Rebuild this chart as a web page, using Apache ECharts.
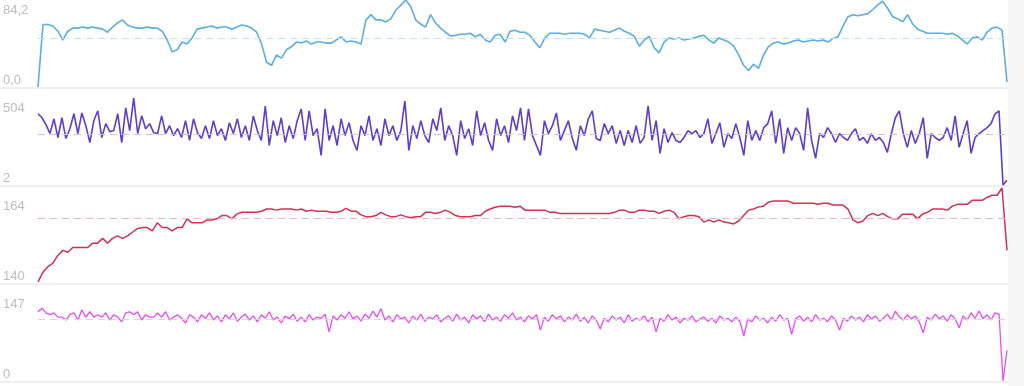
<!DOCTYPE html>
<html>
<head>
<meta charset="utf-8">
<script src="https://cdn.jsdelivr.net/npm/echarts@6/dist/echarts.min.js"></script>
<style>
  html, body { margin: 0; padding: 0; background: #ffffff; }
  #chart { width: 1024px; height: 386px; }
</style>
</head>
<body>
<div id="chart"></div>
<script>
// ---- data ----
const blueValues = [0, 60.5, 60.5, 59, 54, 45.5, 54, 57, 57, 58, 57, 58, 57, 56, 53, 58, 62, 65, 60, 58, 57, 57, 58, 57, 57, 54, 45.5, 34, 36, 43.5, 41.5, 47.5, 56, 57, 58, 59, 57, 58, 58, 56, 58, 60, 59, 57, 53, 41.5, 24, 21, 31, 28, 36, 39, 43.5, 42.5, 44.5, 41.5, 43.5, 43.5, 42.5, 42.5, 45.5, 48.5, 43.5, 44.5, 43.5, 41.5, 65, 70, 65, 65, 63, 66, 74.5, 79, 84.2, 78, 65, 61, 58, 70, 62, 57, 53, 49.5, 50, 51, 51, 52, 48.5, 51, 45.5, 43.5, 50, 51, 43.5, 54, 55, 53, 53, 50, 43.5, 38, 47.5, 52, 52, 52, 51, 52, 52, 52, 51, 47.5, 56, 55, 54, 53, 55, 57, 54, 52, 49, 39.5, 45.5, 49, 38, 33, 43.5, 47.5, 46.5, 47.5, 45.5, 46.5, 47.5, 49, 50, 45.5, 42.5, 47.5, 45.5, 43.5, 39.5, 31, 21, 16, 22, 18, 31, 39, 42.5, 43.5, 41.5, 42.5, 44.5, 45.5, 43.5, 44.5, 45.5, 44.5, 45.5, 43.5, 47, 48.5, 59, 68, 70, 69, 70, 71, 75, 79.5, 83, 76, 68, 66, 63, 70, 61, 56, 54, 52, 52, 52, 52, 51, 52, 49.5, 45.5, 41.5, 47.5, 48.5, 45.5, 53, 57, 58, 55, 5];

const purpleValues = [413, 390, 350, 299, 384, 276, 390, 270, 327, 413, 299, 418, 344, 247, 373, 430, 276, 356, 310, 316, 413, 247, 447, 316, 504, 299, 401, 327, 356, 304, 299, 401, 299, 344, 287, 327, 276, 373, 259, 384, 304, 270,
  344, 270, 373, 287, 327, 259, 361, 299, 384, 276, 344, 259, 401, 316, 259, 458, 230, 373, 287, 390, 247, 344, 270, 373, 441, 259, 430, 287, 327, 173, 441, 259, 344, 230, 384, 287, 361, 259, 202, 344, 287, 401, 259, 327, 230, 384, 287, 344, 259, 316, 487, 202, 344, 270, 373, 287, 247, 384, 316, 447, 259, 344, 287, 173, 373, 270, 327, 230, 430, 287, 361, 259, 202, 384, 287, 344, 247, 401, 316, 447, 259, 441, 287, 230, 173, 373, 299, 344, 418, 259, 316, 373, 270, 202, 344, 287, 384, 430, 270, 259,
  356, 299, 344, 242, 316, 230, 316, 247, 344, 242, 276, 458, 259, 373, 185, 327, 247, 304, 259, 247, 276, 316, 299, 316, 276, 299, 384, 242, 299, 361, 219, 299, 270, 356, 276, 173, 373, 259, 316, 259, 333, 356, 430, 242, 384, 185, 333, 259, 333, 299, 202, 447, 259, 156, 299, 276, 333, 299, 247, 299, 276, 259, 299, 327, 259, 276, 242, 299, 259, 276, 247, 190, 299, 390, 430, 299, 219, 316, 242, 299, 390, 156, 299, 276, 259, 276, 333, 259, 401, 219, 299, 373, 185, 276, 299, 316, 333, 356, 413, 430, 2, 30];

const redValues = [140.3, 143, 144.5, 145.5, 147.6, 149, 148.5, 149.8, 149.8, 149.8, 149.8, 151, 151, 152.3, 151, 152.3, 153, 152.3, 153, 154, 155, 155.3, 155.3, 154.4, 156.6, 155.3, 155.3, 154.4, 155.3, 155.3, 157.7, 156.6, 156.6, 156.6, 157.4, 157.4, 157.7, 158.6, 158.6, 157.7, 159, 159.5, 159.5, 159.5, 159.5, 159.8, 160.4, 160.4, 160.1, 160.4, 160.4, 160.4, 160.1, 160.4, 159.8, 160.1, 159.8, 159.8, 159.8, 159.5, 159.5, 159.8, 160.6, 159.8, 159.8, 158.8, 158.3, 158.3, 158.6, 159.5, 158.8, 158.3, 158.3, 158.8, 158.3, 158, 158.3, 158.3, 159.5, 159.5, 159.2, 159.5, 160.1, 159.5, 158.6, 158.3, 158.3, 158.3, 158.6, 158.6, 159.8, 160.4, 160.9, 161.2, 161.2, 161.2, 160.9, 161.2, 160.1, 160.1, 160.1, 160.1, 160.1, 159.5, 159.5, 159.2, 159.2, 159.2, 159.2, 159.2, 159.2, 159.2, 159.2, 159.2, 159.2, 159.2, 159.5, 160.1, 160.1, 159.5, 159.5, 160.1, 160.1, 159.8, 159.8, 159.2, 159.8, 160.1, 159.5, 157.7, 158.3, 158.6, 158.6, 158.3, 156.8, 157.4, 156.8, 157.4, 156.8, 156.6, 156.3, 157.1, 158.6, 160.1, 160.4, 161, 161.2, 162.3, 162.6, 162.6, 162.6, 162.6, 162, 162, 162, 162, 162, 161.7, 162, 162, 161.5, 161.5, 161.5, 160.4, 157.4, 156.6, 157.1, 158.6, 159.2, 158.6, 159.2, 158.3, 157.7, 157.7, 159, 159, 159, 157.7, 159, 159.5, 160.4, 160.4, 160.4, 160.1, 161.2, 161.7, 161.7, 161.7, 162.8, 162.8, 162.8, 163.6, 164.2, 164.2, 166.2, 149];

const pinkValues = [117, 123, 115, 112, 115, 108, 108, 103, 112, 115, 103, 120, 108, 117, 108, 112, 108, 115, 103, 112, 108, 100, 115, 117, 112, 117, 103, 112, 108, 108, 115, 108, 117, 103, 108, 112, 106, 98, 112, 108, 100, 112,
  106, 115, 103, 110, 100, 112, 105, 115, 101, 108, 113, 103, 110, 100, 112, 106, 117, 103, 108, 98, 110, 105, 113, 101, 108, 100, 112, 103, 108, 106, 113, 83, 110, 103, 112, 106, 117, 105, 110, 101, 113, 106, 118, 108, 122, 103, 110, 100, 112, 105, 108, 98, 110, 103, 113, 101, 108, 105, 112, 100, 106, 110, 101, 113, 103, 108, 98, 112, 105, 110, 100, 113, 103, 108, 101, 112, 106, 115, 103, 108, 100, 110, 105, 112, 86, 108, 101, 112, 105, 110, 100, 108, 103, 113, 101, 108, 98, 110, 103, 88,
  106, 100, 110, 103, 108, 98, 112, 101, 106, 103, 110, 100, 108, 83, 106, 101, 112, 103, 108, 98, 106, 103, 110, 100, 105, 108, 101, 106, 98, 110, 103, 106, 100, 108, 101, 76, 105, 100, 110, 103, 106, 98, 108, 101, 112, 103, 106, 79, 105, 110, 101, 108, 100, 112, 103, 106, 100, 110, 103, 86, 106, 101, 110, 103, 108, 100, 112, 105, 110, 101, 106, 113, 103, 118, 108, 103, 112, 105, 110, 100, 81, 108, 103, 113, 105, 110, 101, 112, 105, 90, 110, 103, 115, 106, 118, 105, 112, 103, 115, 113, 0, 52];

const seriesNames  = ['A', 'B', 'C', 'D'];
const seriesColors = ['#5aaee2', '#5b3fcc', '#d6304f', '#e64df2'];
const meanColors   = ['#bfe2f6', '#c9bff0', '#f1b3bf', '#f6c2fa'];
const axisMin      = [0, 2, 140, 0];
const axisMax      = [84.2, 504, 164, 147];
const meanValues   = [47.2, 297, 157.9, 103.5];
const labelDecimals = [1, 0, 0, 0];

// ---- chart ----
const allValues = [blueValues, purpleValues, redValues, pinkValues];
const lineWidths = [1.6, 1.6, 1.5, 1.3];
const gridTops = [0, 98, 196, 294];
const gridH = 87;

const chart = echarts.init(document.getElementById('chart'), null, { renderer: 'canvas' });

function fmt(v, d) {
  return v.toFixed(d).replace('.', ',');
}

const grids = [], xAxes = [], yAxes = [], series = [];
allValues.forEach((vals, k) => {
  grids.push({ left: 36, right: 17, top: gridTops[k], height: gridH, containLabel: false });
  xAxes.push({
    type: 'category', gridIndex: k, boundaryGap: false,
    data: vals.map((_, i) => i), show: false
  });
  const mn = axisMin[k], mx = axisMax[k];
  yAxes.push({
    type: 'value', gridIndex: k, min: mn, max: mx, interval: mx - mn,
    splitLine: { show: false }, axisLine: { show: false }, axisTick: { show: false },
    axisLabel: {
      color: '#bdbdbd', fontSize: 13, fontFamily: 'Liberation Sans, Arial, sans-serif',
      align: 'left', margin: 35,
      padding: [4, 0, 0, 0],
      verticalAlignMaxLabel: 'top', verticalAlignMinLabel: 'bottom',
      formatter: function (v) {
        if (Math.abs(v - mn) < 1e-6 || Math.abs(v - mx) < 1e-6) return fmt(v, labelDecimals[k]);
        return '';
      }
    }
  });
  series.push({
    name: seriesNames[k], type: 'line', xAxisIndex: k, yAxisIndex: k,
    data: vals, showSymbol: false, symbol: 'none', clip: false,
    lineStyle: { color: seriesColors[k], width: lineWidths[k] },
    itemStyle: { color: seriesColors[k] },
    markLine: {
      silent: true, symbol: 'none', animation: false,
      label: { show: false },
      lineStyle: { color: meanColors[k], type: [7, 5], width: 1.2 },
      data: [{ yAxis: meanValues[k] }]
    },
    z: 3
  });
});

const graphics = [
  { type: 'rect', shape: { x: 1008, y: 0, width: 16, height: 386 }, style: { fill: '#f7f7f7' }, z: -10 }
];
[87, 185, 283, 381].forEach(y => {
  graphics.push({ type: 'rect', shape: { x: 0, y: y, width: 1008, height: 2 }, style: { fill: '#efefef' }, z: -10 });
});

chart.setOption({
  animation: false,
  backgroundColor: '#ffffff',
  grid: grids,
  xAxis: xAxes,
  yAxis: yAxes,
  series: series,
  graphic: graphics
});
</script>
</body>
</html>
